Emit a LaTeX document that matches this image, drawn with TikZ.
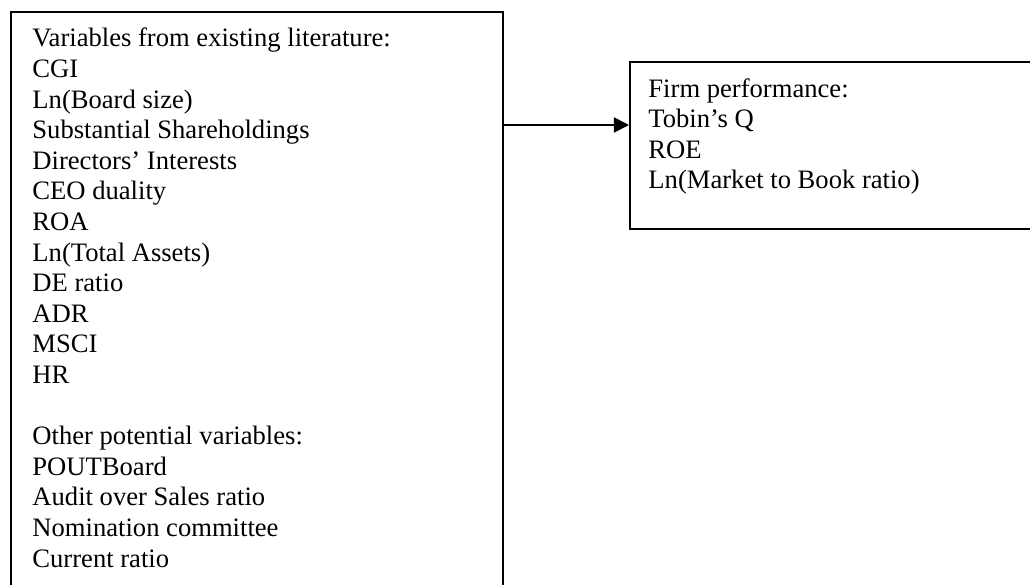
\documentclass[tikz,border=0pt]{standalone}
\usepackage{fontspec}
\setmainfont{Liberation Serif}
\usetikzlibrary{%
	arrows.meta,%
	positioning%
}

\tikzset{
	framebox/.style={draw, line width=0.8pt, inner sep=0pt, anchor=north west},
	listtext/.style={font=\fontsize{12pt}{13.8pt}\selectfont, align=left, inner sep=0pt, anchor=base west},
	flow/.style={line width=0.8pt, -{Triangle[length=6.8pt,width=6.8pt]}}
}

\begin{document}
\begin{tikzpicture}[x=0.451pt,y=-0.451pt]
	% Page area
	\useasboundingbox (0,0) rectangle (1030,585);
	\clip (0,0) rectangle (1030,585);

	% Boxes
	\node[framebox, minimum width=221.9pt, minimum height=275pt] (litbox) at (10,11) {};
	\node[framebox, minimum width=190pt, minimum height=75.3pt] (perfbox) at (629,61) {};

	% Variable lists (placed by the baseline of their last line)
	\node[listtext] (littext) at (32,567) {Variables from existing literature:\\
		CGI\\
		Ln(Board size)\\
		Substantial Shareholdings\\
		Directors’ Interests\\
		CEO duality\\
		ROA\\
		Ln(Total Assets)\\
		DE ratio\\
		ADR\\
		MSCI\\
		HR\\
		\\
		Other potential variables:\\
		POUTBoard\\
		Audit over Sales ratio\\
		Nomination committee\\
		Current ratio};
	\node[listtext] (perftext) at (648,189) {Firm performance:\\
		Tobin’s Q\\
		ROE\\
		Ln(Market to Book ratio)};

	% Arrow between the boxes
	\coordinate (arrowlevel) at (0,125);
	\draw[flow] (litbox.east |- arrowlevel) -- (perfbox.west |- arrowlevel);
\end{tikzpicture}
\end{document}
